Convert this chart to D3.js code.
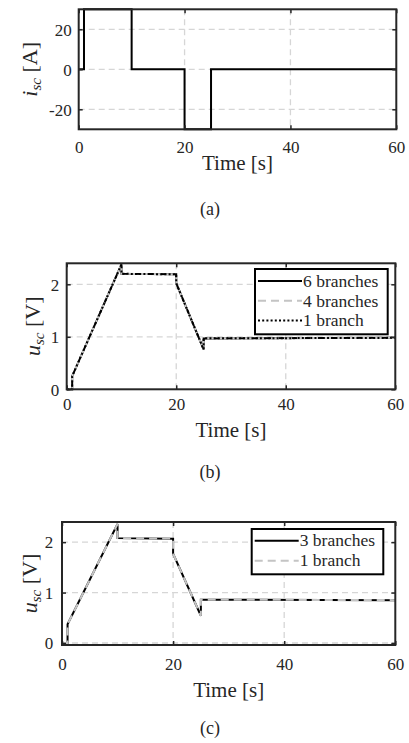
<!DOCTYPE html>
<html>
<head>
<meta charset="utf-8">
<script src="https://cdn.jsdelivr.net/npm/d3@7"></script>
<style>
  html, body { margin: 0; padding: 0; background: #fff; }
  svg { display: block; }
  svg text { font-family: "Liberation Serif", "Times New Roman", serif !important; fill: #262626; }
</style>
</head>
<body>
<svg id="fig" width="409" height="743" font-family="Liberation Serif"></svg>
<script>
// ---- data ----
// (a) supercapacitor current
const timeA = [0, 1, 1, 10, 10, 20, 20, 25, 25, 60];
const currentA = [0, 0, 30, 30, 0, 0, -30, -30, 0, 0];

// (b) supercapacitor voltage for 6 / 4 / 1 parallel branches
const timeB = [0, 1, 1, 10, 10, 20, 20, 25, 25, 60];
const voltage6B = [0, 0, 0.25, 2.38, 2.2, 2.19, 2.02, 0.76, 0.97, 0.98];
const voltage4B = [0, 0, 0.25, 2.38, 2.2, 2.19, 2.02, 0.76, 0.97, 0.98];
const voltage1B = [0, 0, 0.25, 2.38, 2.2, 2.19, 2.02, 0.76, 0.97, 0.98];
const seriesNamesB = ["6 branches", "4 branches", "1 branch"];

// (c) supercapacitor voltage for 3 / 1 parallel branches
const timeC = [0, 1, 1, 10, 10, 20, 20, 25, 25, 60];
const voltage3C = [0, 0, 0.37, 2.36, 2.08, 2.07, 1.77, 0.54, 0.86, 0.85];
const voltage1C = [0, 0, 0.37, 2.36, 2.08, 2.07, 1.77, 0.54, 0.86, 0.85];
const seriesNamesC = ["3 branches", "1 branch"];

const timeTicks = [0, 20, 40, 60];
const currentTicks = [-20, 0, 20];
const voltageTicks = [0, 1, 2];
const captions = ["(a)", "(b)", "(c)"];

// ---- styles ----
const FONT = "'Liberation Serif', 'Times New Roman', serif";
const AXIS = "#262626";
const GRID = "#d6d6d6";
const LIGHT = "#c4c4c4";
const lineStyles = {
  solid:  { stroke: "#000", dash: null },
  dashed: { stroke: LIGHT, dash: "8,5" },
  dotted: { stroke: "#000", dash: "2,2.2" }
};

const svg = d3.select("#fig");

function panel(cfg) {
  const x = d3.scaleLinear().domain([0, 60]).range([cfg.left, cfg.right]);
  const y = d3.scaleLinear().domain(cfg.yDomain).range([cfg.bottom, cfg.top]);
  const g = svg.append("g");

  // grid
  const grid = g.append("g").attr("stroke", GRID).attr("stroke-width", 1.3)
    .attr("stroke-dasharray", "6,4");
  cfg.yGrid.forEach(v => grid.append("line")
    .attr("x1", cfg.left).attr("x2", cfg.right).attr("y1", y(v)).attr("y2", y(v)));
  [20, 40].forEach(v => grid.append("line")
    .attr("x1", x(v)).attr("x2", x(v)).attr("y1", cfg.top).attr("y2", cfg.bottom));

  // data lines
  const line = d3.line().x(d => x(d[0])).y(d => y(d[1]));
  cfg.series.forEach(s => {
    const st = lineStyles[s.style];
    g.append("path")
      .datum(s.t.map((t, i) => [t, s.v[i]]))
      .attr("d", line)
      .attr("fill", "none")
      .attr("stroke", st.stroke)
      .attr("stroke-width", 2)
      .attr("stroke-dasharray", st.dash)
      .attr("stroke-linejoin", "miter");
  });

  // axes: inward ticks on all four sides
  const bottomAxis = g.append("g").attr("transform", `translate(0,${cfg.bottom})`)
    .call(d3.axisBottom(x).tickValues(timeTicks).tickSizeInner(-4).tickSizeOuter(0).tickPadding(cfg.xPad));
  const leftAxis = g.append("g").attr("transform", `translate(${cfg.left},0)`)
    .call(d3.axisLeft(y).tickValues(cfg.yTicks).tickSizeInner(-4).tickSizeOuter(0).tickPadding(cfg.yPad)
      .tickFormat(d => d < 0 ? "-" + Math.abs(d) : d));
  g.append("g").attr("transform", `translate(0,${cfg.top})`)
    .call(d3.axisTop(x).tickValues(timeTicks).tickSizeInner(-4).tickSizeOuter(0).tickFormat(""));
  g.append("g").attr("transform", `translate(${cfg.right},0)`)
    .call(d3.axisRight(y).tickValues(cfg.yTicks).tickSizeInner(-4).tickSizeOuter(0).tickFormat(""));
  g.selectAll(".domain").remove();
  g.selectAll("g").filter(function () { return this.hasAttribute("font-family"); })
    .attr("font-family", FONT).attr("font-size", 17);
  g.selectAll(".tick line").attr("stroke", AXIS).attr("stroke-width", 1.5);
  g.selectAll(".tick text").style("font-family", FONT).attr("font-size", 17).attr("fill", AXIS);
  bottomAxis.selectAll("text").attr("dy", "0.71em");
  leftAxis.selectAll("text").attr("dy", "0.34em");

  // frame
  g.append("rect")
    .attr("x", cfg.left).attr("y", cfg.top)
    .attr("width", cfg.right - cfg.left).attr("height", cfg.bottom - cfg.top)
    .attr("fill", "none").attr("stroke", AXIS).attr("stroke-width", 2);

  // axis labels
  g.append("text")
    .style("font-family", FONT)
    .attr("x", (cfg.left + cfg.right) / 2).attr("y", cfg.xLabelY)
    .attr("text-anchor", "middle").attr("font-size", 21)
    .text("Time [s]");
  const yl = g.append("text")
    .style("font-family", FONT)
    .attr("transform", `translate(${cfg.yLabelX},${(cfg.top + cfg.bottom) / 2}) rotate(-90)`)
    .attr("text-anchor", "middle").attr("font-size", 22);
  yl.append("tspan").attr("font-style", "italic").text(cfg.yVar);
  yl.append("tspan").attr("font-style", "italic").attr("font-size", 15).attr("dy", 4).text("sc");
  yl.append("tspan").attr("dy", -4).text(" [" + cfg.yUnit + "]");

  // legend
  if (cfg.legend) {
    const L = cfg.legend;
    const lg = g.append("g");
    lg.append("rect").attr("x", L.x).attr("y", L.y).attr("width", L.w).attr("height", L.h)
      .attr("fill", "#fff").attr("stroke", "#000").attr("stroke-width", 2);
    cfg.series.forEach((s, i) => {
      const st = lineStyles[s.style];
      const cy = L.y + L.first + i * L.step;
      lg.append("line").attr("x1", L.x + 3).attr("x2", L.x + 47).attr("y1", cy).attr("y2", cy)
        .attr("stroke", st.stroke).attr("stroke-width", 2).attr("stroke-dasharray", st.dash);
      lg.append("text").style("font-family", FONT)
        .attr("x", L.x + 48).attr("y", cy).attr("dy", "0.33em")
        .attr("font-size", 17.5).text(s.name);
    });
  }

  // caption
  g.append("text").style("font-family", FONT)
    .attr("x", 210).attr("y", cfg.captionY)
    .attr("text-anchor", "middle").attr("font-size", 18).attr("fill", "#000")
    .text(cfg.caption);
}

panel({
  left: 78.7, right: 396.3, top: 9.3, bottom: 129.3,
  yDomain: [-30, 30], yTicks: currentTicks, yGrid: currentTicks,
  xPad: 12, yPad: 7, xLabelY: 170, yLabelX: 37,
  yVar: "i", yUnit: "A",
  series: [{ t: timeA, v: currentA, style: "solid" }],
  caption: captions[0], captionY: 215
});

panel({
  left: 66.7, right: 395.3, top: 263.3, bottom: 389.3,
  yDomain: [0, 2.4], yTicks: voltageTicks, yGrid: [1, 2],
  xPad: 8.5, yPad: 7.4, xLabelY: 437, yLabelX: 40,
  yVar: "u", yUnit: "V",
  series: [
    { t: timeB, v: voltage6B, style: "solid", name: seriesNamesB[0] },
    { t: timeB, v: voltage4B, style: "dashed", name: seriesNamesB[1] },
    { t: timeB, v: voltage1B, style: "dotted", name: seriesNamesB[2] }
  ],
  legend: { x: 255, y: 269, w: 132.7, h: 65.3, first: 12, step: 19.8 },
  caption: captions[1], captionY: 478
});

panel({
  left: 62, right: 395.3, top: 522, bottom: 645,
  yDomain: [-0.04, 2.4], yTicks: voltageTicks, yGrid: voltageTicks,
  xPad: 12.5, yPad: 8.7, xLabelY: 696.5, yLabelX: 37,
  yVar: "u", yUnit: "V",
  series: [
    { t: timeC, v: voltage3C, style: "solid", name: seriesNamesC[0] },
    { t: timeC, v: voltage1C, style: "dashed", name: seriesNamesC[1] }
  ],
  legend: { x: 251.7, y: 529, w: 131.6, h: 45.3, first: 11.7, step: 20 },
  caption: captions[2], captionY: 734
});
</script>
</body>
</html>
